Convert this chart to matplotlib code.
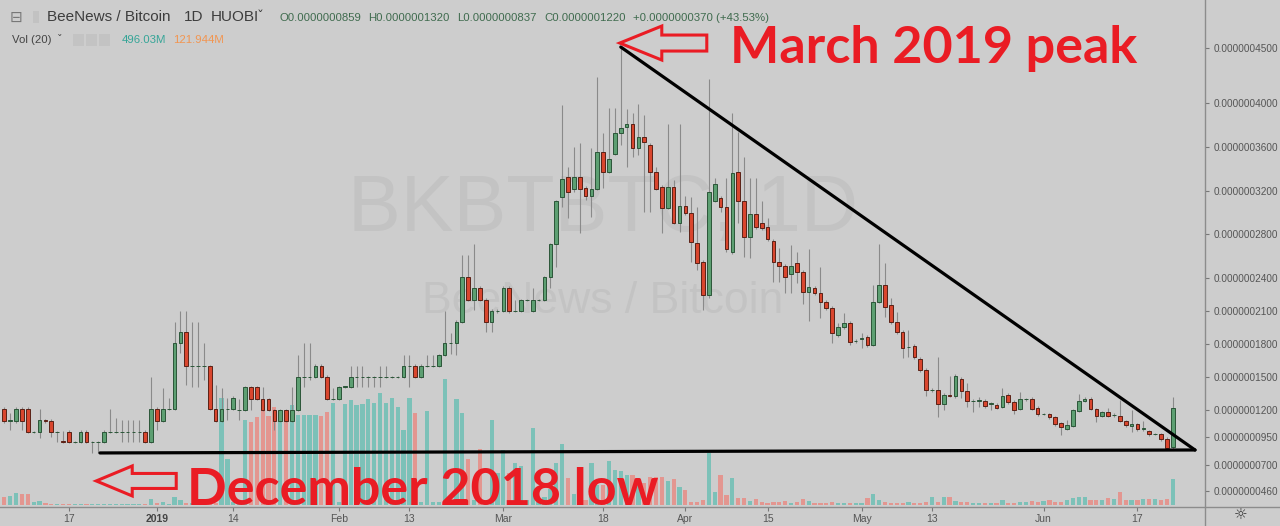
import numpy as np
import pandas as pd
import matplotlib
matplotlib.use("Agg")
import matplotlib.pyplot as plt
from matplotlib.patches import Polygon, Rectangle
from matplotlib.lines import Line2D
from matplotlib.transforms import IdentityTransform

W, H = 1280, 526
BG = "#cdcdcd"
RED = "#ea1c24"

# daily candles BKBTBTC (HUOBI), prices in units of 1e-10 BTC
start_date = "2018-12-06"
opens = [
    1208, 1098, 1098, 1208, 1208, 998, 998, 1108, 1098, 998,
    916, 998, 907, 907, 998, 907, 907, 907, 998, 998,
    998, 998, 998, 998, 998, 907, 1208, 1098, 1208, 1208,
    1810, 1910, 1600, 1600, 1600, 1600, 1208, 1098, 1208, 1208,
    1199, 1199, 1409, 1409, 1299, 1299, 1199, 1098, 1199, 1098,
    1199, 1500, 1500, 1500, 1600, 1500, 1299, 1299, 1409, 1409,
    1500, 1500, 1500, 1500, 1500, 1500, 1500, 1500, 1500, 1600,
    1600, 1500, 1600, 1600, 1600, 1700, 1810, 1810, 2002, 2412,
    2202, 2312, 2202, 2002, 2102, 2102, 2312, 2102, 2102, 2202,
    2102, 2202, 2202, 2412, 2713, 3142, 3324, 3214, 3324, 3224,
    3151, 3214, 3552, 3369, 3534, 3725, 3780, 3807, 3588, 3689,
    3616, 3369, 3233, 3041, 3233, 2905, 3060, 2996, 2722, 2549,
    2248, 3105, 3132, 3050, 2640, 3369, 3105, 2777, 2987, 2905,
    2868, 2740, 2549, 2512, 2439, 2540, 2458, 2275, 2312, 2266,
    2184, 2129, 1883, 1956, 1993, 1828, 1846, 1865, 1792, 2184,
    2339, 2157, 2002, 1910, 1773, 1782, 1664, 1564, 1381, 1381,
    1254, 1336, 1326, 1482, 1372, 1281, 1281, 1281, 1254, 1244,
    1226, 1336, 1272, 1208, 1299, 1299, 1217, 1162, 1162, 1135,
    1080, 1026, 1053, 1190, 1281, 1299, 1208, 1144, 1181, 1153,
    1144, 1098, 1053, 1071, 1026, 1007, 980, 980, 934, 859,
]
highs = [
    1226, 1172, 1226, 1226, 1226, 1007, 1208, 1117, 1117, 1007,
    1007, 1016, 916, 1016, 1016, 916, 916, 1016, 1208, 1126,
    1108, 1108, 1108, 1108, 1016, 1500, 1226, 1399, 1308, 2002,
    2102, 2102, 2002, 2002, 1810, 1609, 1427, 1399, 1308, 1326,
    1299, 1418, 1418, 1418, 1409, 1308, 1208, 1208, 1208, 1409,
    1700, 1810, 1810, 1618, 1618, 1518, 1399, 1418, 1418, 1600,
    1600, 1600, 1509, 1509, 1600, 1600, 1509, 1509, 1700, 1700,
    1618, 1618, 1700, 1700, 1710, 2102, 1901, 2020, 2613, 2613,
    2713, 2330, 2221, 2120, 2120, 2330, 2330, 2202, 2211, 2211,
    2312, 2211, 2421, 2722, 3114, 3980, 3415, 3597, 3634, 3242,
    3588, 4236, 3725, 3953, 3953, 4509, 3944, 3908, 3990, 3889,
    3634, 3415, 3251, 3807, 3300, 3807, 3151, 3142, 3050, 2567,
    4218, 3315, 3151, 3315, 3908, 3734, 3506, 3315, 3315, 3105,
    2950, 2759, 2676, 2531, 2704, 2640, 2476, 2667, 2330, 2503,
    2202, 2148, 1993, 2084, 2011, 1846, 1901, 1883, 2339, 2713,
    2540, 2221, 2093, 1928, 1928, 1801, 1682, 1582, 1399, 1682,
    1354, 1509, 1527, 1500, 1445, 1299, 1317, 1299, 1272, 1263,
    1399, 1354, 1290, 1363, 1308, 1317, 1235, 1172, 1172, 1144,
    1089, 1108, 1208, 1345, 1317, 1317, 1217, 1190, 1217, 1172,
    1290, 1108, 1199, 1080, 1098, 1016, 989, 989, 953, 1320,
]
lows = [
    1080, 1016, 1080, 1016, 989, 989, 943, 1080, 953, 907,
    898, 898, 898, 898, 898, 807, 807, 898, 989, 989,
    907, 907, 907, 907, 898, 898, 1016, 1089, 1199, 1199,
    1719, 1427, 1409, 1409, 1472, 1199, 1089, 1089, 1108, 1199,
    1108, 1190, 1199, 1290, 1190, 1190, 1016, 1089, 1089, 1089,
    1190, 1409, 1472, 1491, 1491, 1290, 1290, 1290, 1399, 1399,
    1409, 1409, 1409, 1409, 1409, 1491, 1491, 1491, 1491, 1409,
    1491, 1491, 1591, 1591, 1591, 1691, 1710, 1700, 1993, 2193,
    2111, 2193, 1910, 1910, 2084, 2093, 2084, 2093, 2093, 2193,
    2093, 2193, 2193, 2312, 2503, 3050, 2950, 3187, 2814, 3114,
    2959, 3205, 3224, 3360, 3524, 3616, 3415, 3506, 3524, 3005,
    3005, 3205, 2814, 3032, 2895, 2823, 2977, 2549, 2476, 2111,
    2221, 3096, 3005, 2640, 2622, 2905, 2594, 2585, 2850, 2841,
    2740, 2366, 2366, 2266, 2266, 2357, 2166, 2011, 2248, 2038,
    2111, 1810, 1865, 1938, 1792, 1810, 1764, 1773, 1782, 2175,
    2047, 1983, 1892, 1673, 1682, 1664, 1545, 1326, 1363, 1135,
    1199, 1317, 1308, 1308, 1226, 1181, 1226, 1217, 1199, 1208,
    1217, 1254, 1162, 1199, 1281, 1199, 1144, 1153, 1117, 1053,
    971, 1016, 1044, 1181, 1272, 1199, 1089, 1135, 1135, 1135,
    1089, 1044, 998, 1007, 1007, 962, 971, 916, 834, 837,
]
closes = [
    1098, 1108, 1208, 1098, 998, 998, 1108, 1098, 998, 998,
    907, 907, 907, 998, 907, 907, 907, 998, 998, 998,
    998, 998, 998, 998, 907, 1208, 1098, 1208, 1208, 1810,
    1910, 1600, 1600, 1600, 1600, 1208, 1098, 1208, 1208, 1308,
    1199, 1409, 1299, 1299, 1199, 1199, 1098, 1199, 1098, 1199,
    1500, 1500, 1500, 1600, 1500, 1299, 1299, 1409, 1409, 1500,
    1500, 1500, 1500, 1500, 1500, 1500, 1500, 1500, 1600, 1600,
    1500, 1600, 1600, 1600, 1700, 1810, 1810, 2002, 2412, 2202,
    2312, 2202, 2002, 2102, 2102, 2312, 2102, 2102, 2202, 2202,
    2202, 2202, 2412, 2713, 3105, 3306, 3187, 3324, 3214, 3151,
    3214, 3552, 3369, 3488, 3725, 3771, 3807, 3588, 3689, 3643,
    3369, 3214, 3041, 3233, 2905, 3060, 2996, 2731, 2540, 2248,
    3187, 3260, 3050, 2667, 3360, 3105, 2777, 2987, 2868, 2859,
    2759, 2549, 2512, 2412, 2512, 2458, 2275, 2321, 2266, 2184,
    2129, 1901, 1956, 1993, 1819, 1828, 1856, 1792, 2184, 2339,
    2139, 2002, 1910, 1764, 1773, 1682, 1564, 1381, 1381, 1254,
    1336, 1326, 1509, 1372, 1281, 1281, 1290, 1235, 1254, 1217,
    1326, 1272, 1199, 1299, 1299, 1208, 1162, 1162, 1135, 1071,
    1044, 1062, 1199, 1281, 1299, 1208, 1144, 1181, 1144, 1153,
    1098, 1062, 1071, 1026, 1026, 980, 980, 934, 850, 1220,
]
# daily volume, millions of BKBT
volumes = [
    150, 170, 230, 210, 210, 60, 75, 40, 25, 20,
    15, 20, 10, 15, 20, 15, 25, 20, 15, 15,
    10, 15, 10, 15, 20, 115, 30, 60, 20, 150,
    95, 40, 30, 25, 20, 40, 35, 2030, 870, 60,
    40, 1615, 1580, 1670, 1805, 1690, 1860, 1615, 1805, 1900,
    1710, 1710, 1710, 1710, 1690, 1770, 1940, 50, 1920, 1995,
    1900, 1920, 2015, 1940, 2130, 1940, 2035, 1860, 1425, 2035,
    1750, 60, 1785, 50, 60, 2395, 70, 2015, 1750, 875,
    100, 1065, 100, 1615, 610, 1045, 610, 800, 740, 100,
    1465, 60, 150, 300, 800, 1160, 515, 200, 150, 100,
    800, 380, 380, 840, 665, 645, 570, 570, 475, 420,
    530, 530, 530, 455, 495, 340, 285, 60, 60, 95,
    990, 250, 570, 190, 515, 135, 135, 75, 115, 50,
    40, 60, 50, 75, 40, 50, 115, 75, 40, 40,
    30, 50, 40, 30, 40, 30, 40, 135, 210, 95,
    50, 40, 30, 40, 50, 40, 30, 50, 150, 60,
    150, 150, 75, 57, 57, 38, 38, 38, 38, 38,
    95, 38, 38, 57, 57, 76, 57, 76, 95, 57,
    57, 95, 133, 152, 152, 95, 95, 95, 133, 114,
    247, 95, 95, 95, 114, 114, 114, 95, 114, 496.03,
]
vol_ma_label = "121.944M"

tick_dates = ["2018-12-17", "2019-01-01", "2019-01-14", "2019-02-01", "2019-02-13",
              "2019-03-01", "2019-03-18", "2019-04-01", "2019-04-15", "2019-05-01",
              "2019-05-13", "2019-06-01", "2019-06-17"]
tick_labels = ["17", "2019", "14", "Feb", "13", "Mar", "18", "Apr", "15", "May",
               "13", "Jun", "17"]
price_ticks = [4500, 4000, 3600, 3200, 2800, 2400, 2100, 1800, 1500, 1200, 950, 700, 460]
UNIT = 1e-10

o = np.array(opens)
h = np.array(highs)
l = np.array(lows)
c = np.array(closes)
v = np.array(volumes)
dates = pd.date_range(start_date, periods=len(c), freq="D")
x = np.arange(len(c))
up = c >= o

peak_i = int(np.argmax(h))
low_i = int(np.where(l == l.min())[0][-1])
apex = (202.8, 834)   # where the two drawn lines meet

fig = plt.figure(figsize=(W / 100, H / 100), dpi=100, facecolor=BG)
rect = [0, 19 / H, 1205 / W, 507 / H]

# volume pane (overlay, behind candles)
axv = fig.add_axes(rect)
axv.set_facecolor(BG)
axv.bar(x, v, width=0.72, color=np.where(up, "#7cc1b8", "#e39690"), zorder=2)
axv.set_xlim(-0.73, 204.5)
axv.set_ylim(-38, 9600)
axv.axis("off")
axv.text(0.5, 0.585, "BKBTBTC, 1D", transform=axv.transAxes, ha="center", va="center",
         fontsize=57, color="#c3c3c3", family="Liberation Sans", zorder=0)
axv.text(0.5, 0.405, "BeeNews / Bitcoin", transform=axv.transAxes, ha="center", va="center",
         fontsize=32, color="#c3c3c3", family="Liberation Sans", zorder=0)

# candles
ax = fig.add_axes(rect)
ax.patch.set_alpha(0)
ax.vlines(x, l, h, color="#8a8a8a", lw=0.8, zorder=2)
body = np.maximum(np.abs(c - o), 4)
ax.bar(x, body, bottom=np.minimum(o, c), width=0.62,
       color=np.where(up, "#5d9f72", "#d9462e"),
       edgecolor=np.where(up, "#2b5638", "#5a2116"), linewidth=0.7, zorder=3)
ax.set_xlim(-0.73, 204.5)
ax.set_ylim(314, 4938)

# trend lines
ax.plot([x[peak_i], apex[0]], [h[peak_i], apex[1]], color="black", lw=2.3,
        solid_capstyle="round", clip_on=False, zorder=6)
ax.plot([x[low_i] + 0.3, apex[0]], [l[low_i], apex[1]], color="black", lw=2.3,
        solid_capstyle="round", clip_on=False, zorder=6)

# axes styling
for s in ax.spines.values():
    s.set_visible(False)
ax.yaxis.tick_right()
ax.set_yticks(price_ticks)
ax.set_yticklabels([f"{p * UNIT:.10f}" for p in price_ticks])
tick_pos = [(pd.Timestamp(d) - dates[0]).days for d in tick_dates]
ax.set_xticks(tick_pos)
ax.set_xticklabels(tick_labels)
ax.tick_params(axis="y", length=3, width=0.8, color="#777777", pad=3,
               labelsize=7.2, labelcolor="#555555")
ax.tick_params(axis="x", length=3, width=0.8, color="#777777", pad=2,
               labelsize=7.5, labelcolor="#555555")
for t in ax.get_xticklabels() + ax.get_yticklabels():
    t.set_family("Liberation Sans")
for t in ax.get_xticklabels():
    if t.get_text() == "2019":
        t.set_fontweight("bold")
        t.set_color("#444444")

fig.add_artist(Line2D([1205 / W, 1205 / W], [0, 1], color="#8c8c8c", lw=1))
fig.add_artist(Line2D([0, 1], [19 / H, 19 / H], color="#8c8c8c", lw=1))


def fx(px):
    return px / W


def fy(py):
    return 1 - py / H


# header
fig.text(fx(16), fy(17), "⊟", fontsize=11, color="#777777", ha="center", va="center",
         family="DejaVu Sans")
fig.add_artist(Rectangle((fx(33), fy(23)), 6 / W, 12 / H, color="#c2c2c2", lw=0))
hdr = dict(fontsize=11, color="#3d3d3d", va="center", family="Liberation Sans")
fig.text(fx(47), fy(17), "BeeNews / Bitcoin", **hdr)
fig.text(fx(184), fy(17), "1D", **hdr)
fig.text(fx(211), fy(17), "HUOBI", **hdr)
fig.text(fx(257), fy(17), "ˇ", fontsize=10, color="#3d3d3d", va="center", family="DejaVu Sans")
ohlc = dict(fontsize=8.2, color="#3f6b4e", va="center", family="Liberation Sans")
chg = c[-1] - c[-2]
fig.text(fx(279), fy(18), f"O{o[-1] * UNIT:.10f}", **ohlc)
fig.text(fx(368), fy(18), f"H{h[-1] * UNIT:.10f}", **ohlc)
fig.text(fx(457), fy(18), f"L{l[-1] * UNIT:.10f}", **ohlc)
fig.text(fx(544), fy(18), f"C{c[-1] * UNIT:.10f}", **ohlc)
fig.text(fx(633), fy(18), f"+{chg * UNIT:.10f} (+{chg / c[-2] * 100:.2f}%)", **ohlc)

fig.text(fx(12), fy(40), "Vol (20)", fontsize=8.2, color="#444444", va="center",
         family="Liberation Sans")
fig.text(fx(57), fy(40), "ˇ", fontsize=8, color="#444444", va="center", family="DejaVu Sans")
for bx in (73, 86, 99):
    fig.add_artist(Rectangle((fx(bx), fy(46)), 11 / W, 12 / H, color="#c3c3c3", lw=0))
fig.text(fx(122), fy(40), f"{v[-1]:.2f}M", fontsize=8.2, color="#35a597", va="center",
         family="Liberation Sans")
fig.text(fx(173), fy(40), vol_ma_label, fontsize=8.2, color="#f29550",
         va="center", family="Liberation Sans")

fig.text(fx(1241), fy(515), "☼", fontsize=11, color="#333333", ha="center", va="center",
         family="DejaVu Sans")

# red annotations
fig.canvas.draw()


def block_arrow(tip, head, tail, half_head, half_shaft):
    tx, ty = tip
    pts = [(0, 0), (head, half_head), (head, half_shaft), (tail, half_shaft),
           (tail, -half_shaft), (head, -half_shaft), (head, -half_head)]
    return Polygon([(tx + dx, ty + dy) for dx, dy in pts], closed=True, fill=False,
                   edgecolor=RED, lw=2.2, transform=IdentityTransform(), joinstyle="miter")


px_peak = ax.transData.transform((x[peak_i], h[peak_i]))
px_low = ax.transData.transform((x[low_i], l[low_i]))
fig.add_artist(block_arrow((px_peak[0] - 1, px_peak[1] + 4), 42, 87, 17, 8))
fig.add_artist(block_arrow((px_low[0] - 2, px_low[1] - 28), 36, 80, 15, 7.5))

big = dict(fontsize=37.5, color=RED, fontweight="bold", family="Lato", va="baseline")
fig.text(fx(730), fy(63), "March 2019 peak", **big)
fig.text(fx(187), fy(505), "December 2018 low", **big)

fig.savefig("out.png", dpi=100, facecolor=BG)
